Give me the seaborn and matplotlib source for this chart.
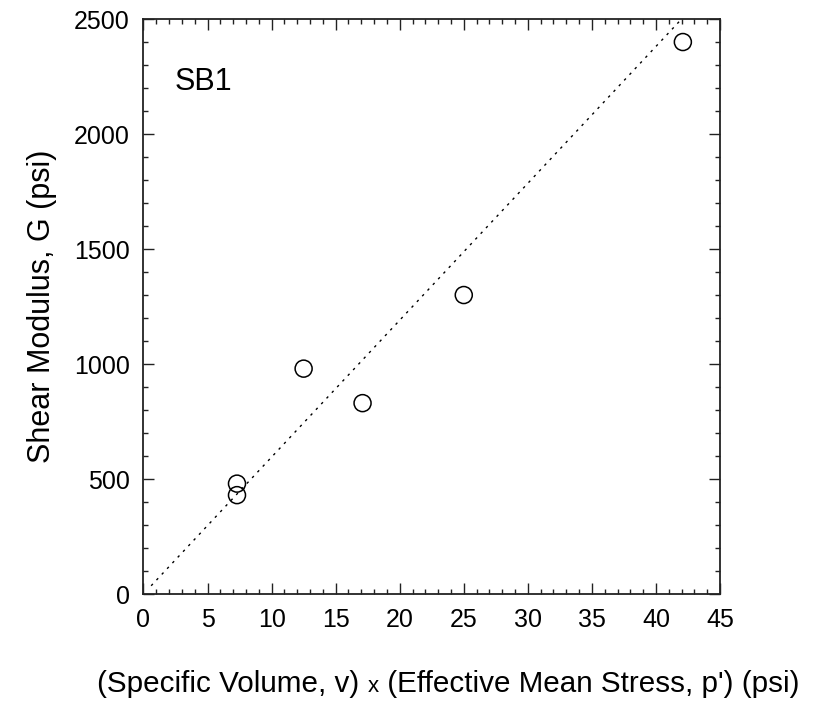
import matplotlib
matplotlib.use("Agg")
import matplotlib.pyplot as plt
import seaborn as sns
import pandas as pd
from matplotlib.ticker import MultipleLocator
from matplotlib.offsetbox import TextArea, HPacker, AnnotationBbox

# Data
vp = [7.3, 7.3, 12.5, 17.1, 25.0, 42.1]
shear_modulus = [430, 480, 980, 830, 1300, 2400]
fit_x = [0.6, 42.0]
fit_y = [36, 2500]
xlabel_parts = ["(Specific Volume, v) ", "x", " (Effective Mean Stress, p') (psi)"]
ylabel = "Shear Modulus, G (psi)"
panel_label = "SB1"

sns.set_style("ticks")
plt.rcParams['font.family'] = ['Liberation Sans', 'DejaVu Sans']
for k in ["text.color", "axes.labelcolor", "xtick.color", "ytick.color", "axes.edgecolor"]:
    plt.rcParams[k] = "black"

fig = plt.figure(figsize=(8.17, 7.05), dpi=100)
ax = fig.add_axes([0.1756, 0.1574, 0.8813 - 0.1756, 0.973 - 0.1574])

df = pd.DataFrame({"vp": vp, "G": shear_modulus})
sns.lineplot(x=fit_x, y=fit_y, ax=ax, color="black", linewidth=1.0,
             linestyle=(0, (1.8, 3.8)), legend=False)
sns.scatterplot(data=df, x="vp", y="G", ax=ax, marker="o", s=150,
                facecolor="none", edgecolor="black", linewidth=1.1,
                legend=False, zorder=3)

ax.set_xlim(0, 45)
ax.set_ylim(0, 2500)
ax.xaxis.set_major_locator(MultipleLocator(5))
ax.xaxis.set_minor_locator(MultipleLocator(1))
ax.yaxis.set_major_locator(MultipleLocator(500))
ax.yaxis.set_minor_locator(MultipleLocator(100))
ax.tick_params(which="both", direction="in", top=True, right=True,
               color="#222222", width=1)
ax.tick_params(which="major", length=8, labelsize=18, pad=10)
ax.tick_params(which="minor", length=3.6)
for sp in ax.spines.values():
    sp.set_linewidth(1.3)
    sp.set_color("#222222")

ax.set_xlabel("")
ax.set_ylabel(ylabel, fontsize=22, labelpad=12)
ax.text(2.4, 2190, panel_label, fontsize=22, ha="left", va="baseline")

parts = [TextArea(xlabel_parts[0], textprops=dict(fontsize=21.3)),
         TextArea(xlabel_parts[1], textprops=dict(fontsize=16)),
         TextArea(xlabel_parts[2], textprops=dict(fontsize=21.3))]
box = HPacker(children=parts, align="baseline", pad=0, sep=0)
ab = AnnotationBbox(box, (448 / 817, 1 - 684 / 705), xycoords="figure fraction",
                    frameon=False, box_alignment=(0.5, 0.5))
fig.add_artist(ab)

fig.savefig("out.png", dpi=100)
